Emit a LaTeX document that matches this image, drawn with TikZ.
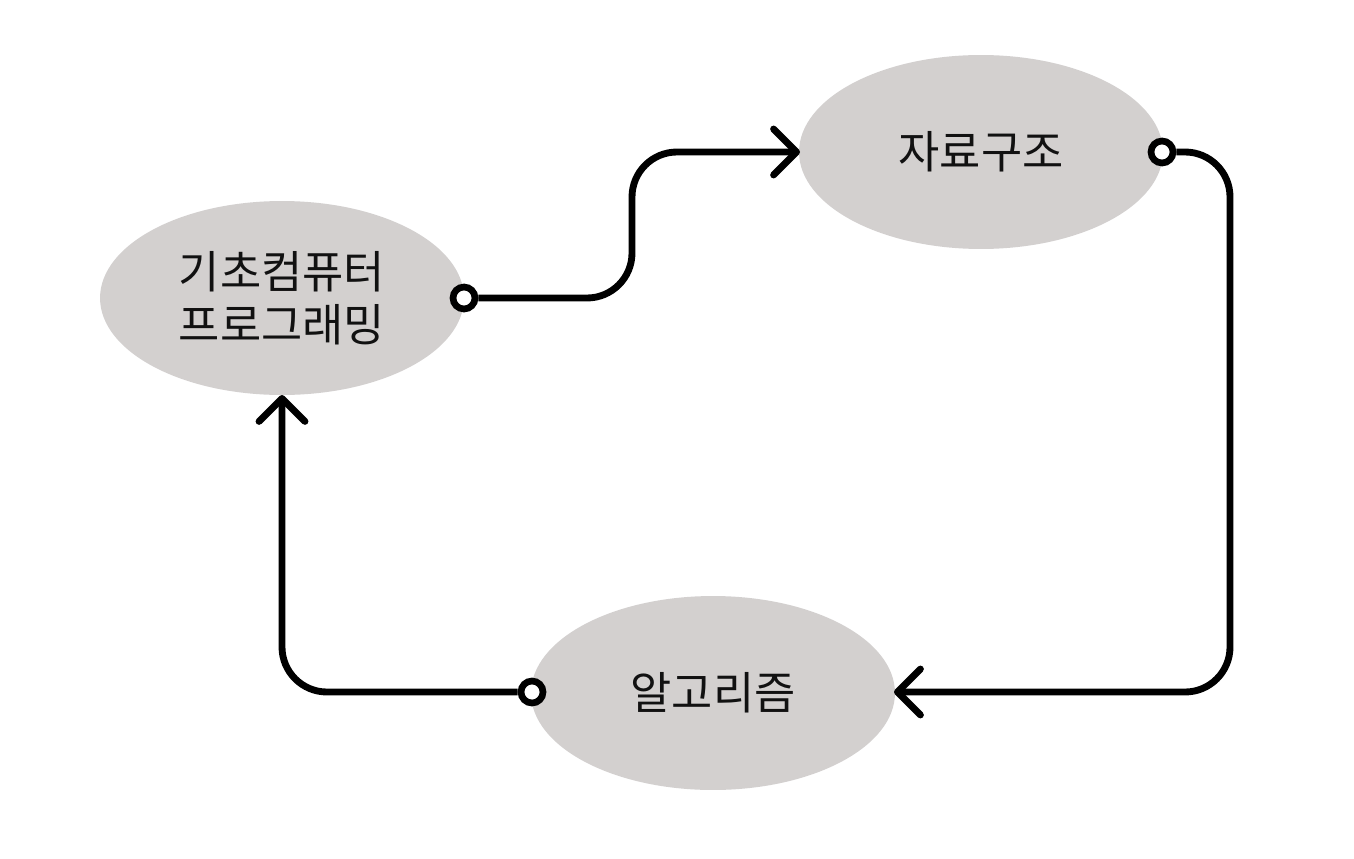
\documentclass[tikz,border=0pt]{standalone}
\usepackage{fontspec}
\newfontfamily\kr{Noto Sans CJK KR}
\usetikzlibrary{arrows.meta,shapes.geometric}
\definecolor{ellfill}{HTML}{D3D0CF}
\definecolor{txt}{HTML}{111111}
\begin{document}
\begin{tikzpicture}[x=0.02cm,y=-0.02cm,
  topic/.style={ellipse,fill=ellfill,minimum width=7.28cm,minimum height=3.88cm,inner sep=0pt,
    font=\kr\fontsize{25.5}{30}\selectfont,text=txt,align=center},
  dot/.style={circle,draw=black,fill=white,line width=3.8pt,minimum size=0.44cm,inner sep=0pt},
  link/.style={draw=black,line width=3.9pt,rounded corners=0.9cm,
    -{Straight Barb[length=0.46cm,width=0.92cm,round]}}]
\useasboundingbox (0,0) rectangle (1354,858);
\node[topic] (B) at (282,298) {기초컴퓨터\\프로그래밍};
\node[topic] (A) at (981,152) {자료구조};
\node[topic] (C) at (713,693) {알고리즘};
\node[dot] (c1) at (464,298) {};
\node[dot] (c2) at (1162,152) {};
\node[dot] (c3) at (532,692) {};
\draw[link] (c1.east) -- (632,298) -- (632,152) -- (800,152);
\draw[link] (c2.east) -- (1230,152) -- (1230,692) -- (894,692);
\draw[link] (c3.west) -- (282,692) -- (282,395);
\end{tikzpicture}
\end{document}
